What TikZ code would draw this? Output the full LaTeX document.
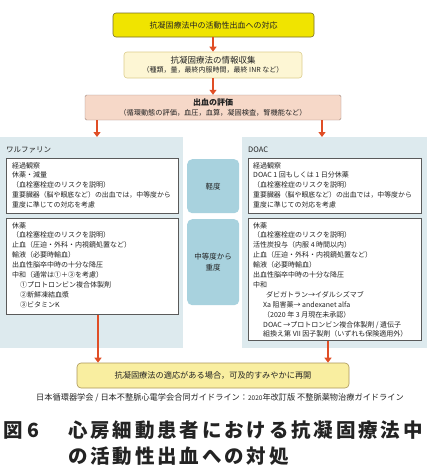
\documentclass[tikz,border=0pt]{standalone}
\usepackage{fontspec}
\newfontfamily\jp{Noto Sans CJK JP}
\usetikzlibrary{arrows.meta,calc}
\definecolor{topfill}{RGB}{240,228,0}
\definecolor{topdraw}{RGB}{120,110,40}
\definecolor{infofill}{RGB}{253,246,212}
\definecolor{infodraw}{RGB}{220,205,140}
\definecolor{evalfill}{RGB}{246,216,200}
\definecolor{evaldraw}{RGB}{160,135,125}
\definecolor{arrowc}{RGB}{224,78,38}
\definecolor{panelc}{RGB}{221,234,238}
\definecolor{sevc}{RGB}{168,210,222}
\definecolor{endfill}{RGB}{249,238,160}
\definecolor{enddraw}{RGB}{170,150,90}
\definecolor{textc}{RGB}{35,35,35}
\definecolor{boxdraw}{RGB}{90,90,90}
\tikzset{
  every node/.style={font=\jp, text=textc},
  arr/.style={-{Triangle[width=7pt,length=5pt]}, line width=2pt, draw=arrowc},
  panel/.style={fill=panelc, draw=none, anchor=north west, inner sep=0},
  wbox/.style={fill=white, draw=boxdraw, line width=0.6pt, anchor=north west, inner sep=0},
  sev/.style={fill=sevc, draw=none, rounded corners=5pt, anchor=north west, inner sep=0, align=center, font=\jp\fontsize{7.5}{10}\selectfont},
  btext/.style={anchor=north west, align=left, inner sep=0, font=\jp\fontsize{7}{9.9}\selectfont},
  captext/.style={anchor=west, inner sep=0, font=\jp\bfseries\fontsize{19.5}{24}\selectfont\addfontfeatures{LetterSpace=14.5}},
}
\newcommand{\sm}{\fontsize{6.9}{9.9}\selectfont}
\begin{document}
\begin{tikzpicture}[x=1pt,y=-1pt]
\useasboundingbox (0,0) rectangle (427,466);
% top flow
\node[fill=topfill, draw=topdraw, line width=0.6pt, rounded corners=3pt, minimum width=201pt, minimum height=24pt, inner sep=0, font=\jp\fontsize{8}{10}\selectfont] (t1) at (213.5,25) {抗凝固療法中の活動性出血への対応};
\node[fill=infofill, draw=infodraw, line width=0.6pt, rounded corners=3pt, minimum width=178pt, minimum height=26pt, inner sep=0, align=center, font=\jp\fontsize{8.5}{10}\selectfont] (t2) at (213,65) {抗凝固療法の情報収集\\[-0.5pt]{\fontsize{7}{9}\selectfont （種類，量，最終内服時間，最終 INR など）}};
\node[fill=evalfill, draw=evaldraw, line width=0.4pt, rounded corners=1.5pt, minimum width=256pt, minimum height=25pt, inner sep=0, align=center, font=\jp\bfseries\fontsize{8}{10}\selectfont] (b3) at (213,107.5) {出血の評価\\[-0.5pt]{\mdseries\fontsize{7.2}{9}\selectfont （循環動態の評価，血圧，血算，凝固検査，腎機能など）}};
\draw[arr] (t1.south -| t2.north) -- (t2.north);
\draw[arr] (t2.south) -- (b3.north);
% panels
\node[panel, minimum width=183pt, minimum height=211pt] (lpanel) at (0,137) {};
\node[panel, minimum width=185pt, minimum height=211pt] (rpanel) at (242,137) {};
\coordinate (la) at (97,0);
\coordinate (ra) at (322,0);
\draw[arr] (b3.south -| la) -- (lpanel.north -| la);
\draw[arr] (b3.south -| ra) -- (rpanel.north -| ra);
\node[anchor=west, inner sep=0, font=\jp\fontsize{7.5}{9}\selectfont] (lt) at (6,149.5) {ワルファリン};
\node[anchor=west, inner sep=0, font=\jp\fontsize{7.5}{9}\selectfont] (rt) at (248,149.5) {DOAC};
% white boxes
\node[wbox, minimum width=172pt, minimum height=55pt] (lb1) at (6,158) {};
\node[wbox, minimum width=172pt, minimum height=96pt] (lb2) at (6,218) {};
\node[wbox, minimum width=173pt, minimum height=55pt] (rb1) at (248,158) {};
\node[wbox, minimum width=173pt, minimum height=122pt] (rb2) at (248,218) {};
% severity labels
\node[sev, minimum width=52pt, minimum height=54pt] (s1) at (187,159) {};
\node[font=\jp\fontsize{7.5}{10}\selectfont, inner sep=0] (s1t) at (s1.center) {軽度};
\node[sev, minimum width=52pt, minimum height=86pt] (s2) at (187,219) {};
\node[font=\jp\fontsize{7.5}{10.5}\selectfont, inner sep=0, align=center] (s2t) at (s2.center) {中等度から\\重度};
% texts
\node[btext] (lb1t) at ($(lb1.north west)+(6,4)$) {経過観察\\休薬・減量\\（血栓塞栓症のリスクを説明）\\{\sm 重要臓器（脳や眼底など）の出血では，中等度から}\\{\sm 重度に準じての対応を考慮}};
\node[btext] (lb2t) at ($(lb2.north west)+(6,4)$) {休薬\\（血栓塞栓症のリスクを説明）\\止血（圧迫・外科・内視鏡処置など）\\輸液（必要時輸血）\\出血性脳卒中時の十分な降圧\\中和（通常は①＋③を考慮）\\\hspace*{8pt}①プロトロンビン複合体製剤\\\hspace*{8pt}②新鮮凍結血漿\\\hspace*{8pt}③ビタミンK};
\node[btext] (rb1t) at ($(rb1.north west)+(5,4)$) {経過観察\\DOAC 1 回もしくは 1 日分休薬\\（血栓塞栓症のリスクを説明）\\{\sm 重要臓器（脳や眼底など）の出血では，中等度から}\\{\sm 重度に準じての対応を考慮}};
\node[btext] (rb2t) at ($(rb2.north west)+(5,4)$) {休薬\\（血栓塞栓症のリスクを説明）\\活性炭投与（内服 4 時間以内）\\止血（圧迫・外科・内視鏡処置など）\\輸液（必要時輸血）\\出血性脳卒中時の十分な降圧\\中和\\\hspace*{13pt}ダビガトラン→イダルシズマブ\\\hspace*{10pt}Xa 阻害薬→ andexanet alfa\\\hspace*{10pt}（2020 年 3 月現在未承認）\\\hspace*{10pt}DOAC →プロトロンビン複合体製剤 / 遺伝子\\\hspace*{10pt}組換え第 VII 因子製剤（いずれも保険適用外）};
% final box
\node[fill=endfill, draw=enddraw, line width=0.6pt, rounded corners=4pt, minimum width=272pt, minimum height=25pt, inner sep=0, font=\jp\fontsize{8.2}{10}\selectfont] (fb) at (213,375.5) {抗凝固療法の適応がある場合，可及的すみやかに再開};
\coordinate (lb) at (98,0);
\coordinate (rb) at (328,0);
\draw[arr] (lb2.south -| lb) -- (fb.north -| lb);
\draw[arr] (rb2.south -| rb) -- (fb.north -| rb);
% citation
\node[inner sep=0, font=\jp\fontsize{8.2}{9}\selectfont] (cite) at (220,398) {日本循環器学会 / 日本不整脈心電学会合同ガイドライン：{\fontsize{6.5}{9}\selectfont 2020}年改訂版 不整脈薬物治療ガイドライン};
% caption
\node[anchor=west, inner sep=0, font=\jp\bfseries\fontsize{19.5}{24}\selectfont] (fig) at (3,430) {図 6};
\node[captext] (cap1) at (68,430) {心房細動患者における抗凝固療法中};
\node[captext] (cap2) at (68,456) {の活動性出血への対処};
\end{tikzpicture}
\end{document}
